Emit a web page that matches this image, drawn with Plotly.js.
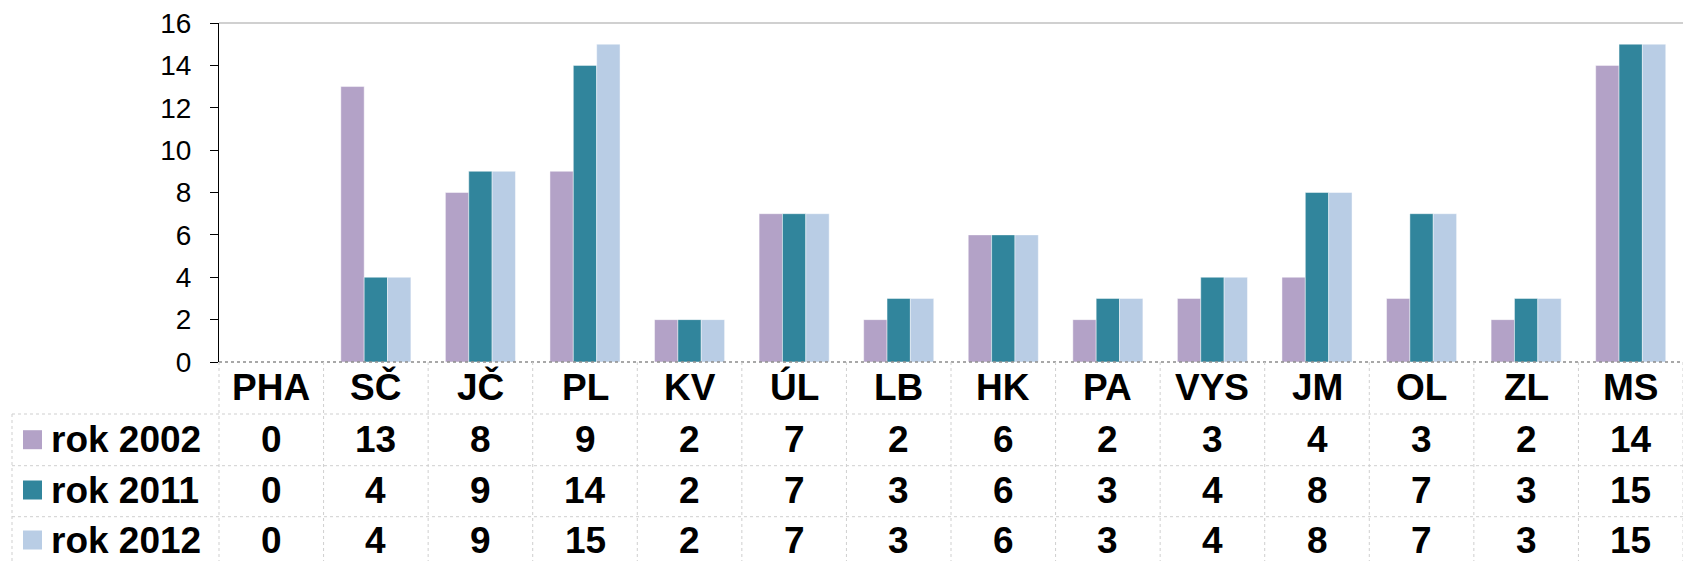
<!DOCTYPE html>
<html>
<head>
<meta charset="utf-8">
<script src="https://cdn.plot.ly/plotly-3.0.1.min.js"></script>
<style>html,body{margin:0;padding:0;background:#fff;}#chart{width:1683px;height:561px;}</style>
</head>
<body>
<div id="chart"></div>
<script>
const categories = ["PHA","SČ","JČ","PL","KV","ÚL","LB","HK","PA","VYS","JM","OL","ZL","MS"];
const seriesNames = ["rok 2002","rok 2011","rok 2012"];
const rok2002 = [0,13,8,9,2,7,2,6,2,3,4,3,2,14];
const rok2011 = [0,4,9,14,2,7,3,6,3,4,8,7,3,15];
const rok2012 = [0,4,9,15,2,7,3,6,3,4,8,7,3,15];
const seriesValues = [rok2002, rok2011, rok2012];
const colors = ["#B3A2C7","#31859C","#B9CDE5"];
const yTicks = [0,2,4,6,8,10,12,14,16];

// layout geometry (pixels)
const W = 1683, H = 561;
const L = 219, T = 23, B = 362;
const plotW = W - L, plotH = B - T;
const px = x => (x - L) / plotW;
const py = y => (B - y) / plotH;

const headerY = 387;
const rowCenters = [439.7, 490, 540];
const rowLines = [414, 465.7, 516.7];
const tableLeft = 12;

const FONT = "Liberation Sans, Arial, sans-serif";
const TFS = 37;

const traces = seriesValues.map((vals, i) => ({
  type: "bar",
  name: seriesNames[i],
  x: categories,
  y: vals,
  marker: {color: colors[i], line: {color: "rgba(255,255,255,0.45)", width: 1}},
  hoverinfo: "x+y+name"
}));

const shapes = [];
const gridCol = "#cfcfcf";
// top border line
shapes.push({type:"line", xref:"paper", yref:"paper", x0:0, x1:1, y0:1, y1:1,
  line:{color:"#c0c0c0", width:1.5}});
// x axis dotted baseline
shapes.push({type:"line", xref:"paper", yref:"paper", x0:0, x1:1, y0:0, y1:0,
  line:{color:"#8c8c8c", width:1.5, dash:"dot"}});
// horizontal table lines
rowLines.forEach(yy => shapes.push({type:"line", xref:"paper", yref:"paper",
  x0:px(tableLeft), x1:1, y0:py(yy), y1:py(yy), line:{color:gridCol, width:1, dash:"dot"}}));
// vertical table lines at category boundaries
for (let k = 0; k <= categories.length; k++) {
  const xx = k / categories.length;
  shapes.push({type:"line", xref:"paper", yref:"paper", x0:xx, x1:xx,
    y0:py(B), y1:py(H), line:{color:gridCol, width:1, dash:"dot"}});
}
// left table edge
shapes.push({type:"line", xref:"paper", yref:"paper", x0:px(tableLeft), x1:px(tableLeft),
  y0:py(rowLines[0]), y1:py(H), line:{color:gridCol, width:1, dash:"dot"}});
// legend swatches
seriesNames.forEach((n, i) => {
  const c = rowCenters[i];
  shapes.push({type:"rect", xref:"paper", yref:"paper", x0:px(23), x1:px(42),
    y0:py(c + 9.5), y1:py(c - 9.5), fillcolor:colors[i], line:{width:0}});
});

const annotations = [];
categories.forEach(c => annotations.push({xref:"x", yref:"paper", x:c, y:py(headerY),
  text:c, showarrow:false, xanchor:"center", yanchor:"middle",
  font:{family:FONT, size:TFS, color:"#000", weight:"bold"}}));
seriesValues.forEach((vals, i) => {
  annotations.push({xref:"paper", yref:"paper", x:px(49), y:py(rowCenters[i]),
    text:seriesNames[i], showarrow:false, xanchor:"left", yanchor:"middle",
    font:{family:FONT, size:TFS, color:"#000", weight:"bold"}});
  vals.forEach((v, j) => annotations.push({xref:"x", yref:"paper", x:categories[j], y:py(rowCenters[i]),
    text:String(v), showarrow:false, xanchor:"center", yanchor:"middle",
    font:{family:FONT, size:TFS, color:"#000", weight:"bold"}}));
});

const layout = {
  width: W, height: H,
  margin: {l: L, r: 0, t: T, b: H - B, pad: 0},
  paper_bgcolor: "#fff", plot_bgcolor: "#fff",
  showlegend: false,
  barmode: "group",
  bargap: 0.33, bargroupgap: 0,
  font: {family: FONT, color: "#000"},
  xaxis: {type:"category", categoryorder:"array", categoryarray:categories,
    range:[-0.5, categories.length - 0.5], showticklabels:false, ticks:"",
    showline:false, showgrid:false, zeroline:false, fixedrange:true},
  yaxis: {range:[0,16], tickvals:yTicks, ticktext:yTicks.map(String),
    ticks:"outside", ticklen:8, tickwidth:1, tickcolor:"#000",
    showline:true, linecolor:"#000", linewidth:1,
    showgrid:false, zeroline:false,
    tickfont:{family:FONT, size:28, color:"#000"}, ticklabelstandoff:13, fixedrange:true},
  shapes: shapes,
  annotations: annotations
};

Plotly.newPlot("chart", traces, layout, {staticPlot:true, displayModeBar:false});
</script>
</body>
</html>
